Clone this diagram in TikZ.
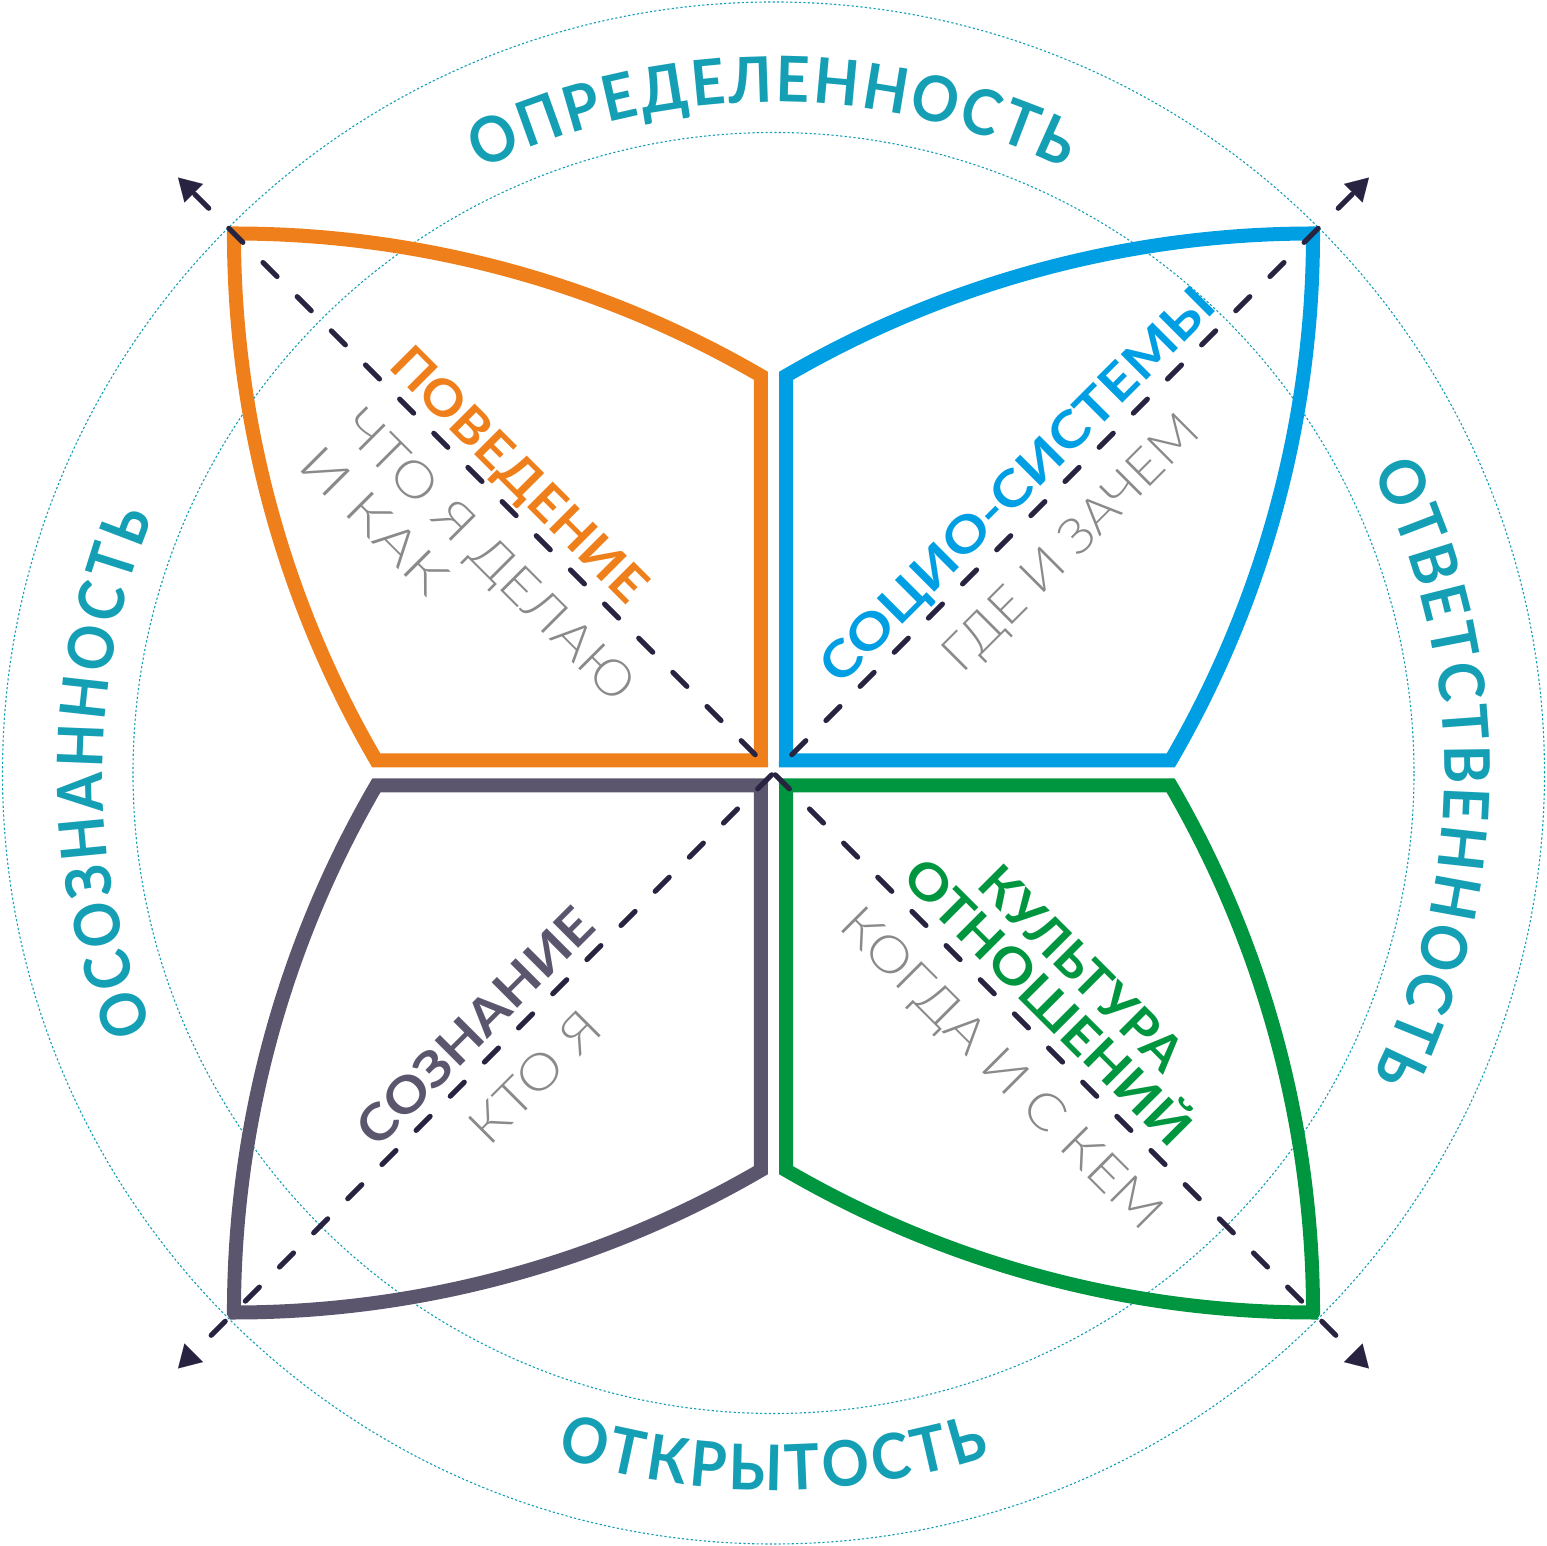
\documentclass[tikz,border=0pt]{standalone}
\usepackage{fontspec}
\usepackage{graphicx}
\setmainfont{Lato}
\newfontfamily\outerfont{Lato}[FakeStretch=0.93]
\newfontfamily\outerfontn{Lato}[FakeStretch=0.9]
\newfontfamily\lightfont{Lato Light}
\usetikzlibrary{arrows.meta,decorations.text}
\definecolor{cteal}{HTML}{149FB5}
\definecolor{corange}{HTML}{EF7F1A}
\definecolor{cblue}{HTML}{009FE3}
\definecolor{cgreen}{HTML}{00963F}
\definecolor{cpurple}{HTML}{5B566E}
\definecolor{cgrey}{HTML}{8A8A8A}
\definecolor{cnavy}{HTML}{272340}
\newcommand\petalshape[2]{%
  \begin{scope}[#1]
    \draw[petal,#2] (-539.5,539.5) arc[start angle=90,end angle=59.78,radius=1047]
      -- (-12.5,12.5) -- (-397.2,12.5) arc[start angle=210.22,end angle=180,radius=1047] -- cycle;
  \end{scope}}
\newcommand\fitw[2]{\resizebox{#1pt}{\height}{#2}}
\begin{document}
\begin{tikzpicture}[x=1pt,y=1pt,
  ring/.style={cteal,line width=1.1pt,dash pattern=on 2.2pt off 2.2pt},
  petal/.style={line width=14pt,line join=miter},
  ray/.style={cnavy,line width=5pt,line cap=round,dash pattern=on 20pt off 28.3pt,
    -{Triangle[length=22pt,width=26pt,line width=0.01pt]}},
  lab/.style={inner sep=0pt,outer sep=0pt,font=\bfseries\fontsize{50}{56}\selectfont},
  sub/.style={inner sep=0pt,outer sep=0pt,cgrey,font=\lightfont\fontsize{50}{56}\selectfont},
  outer/.style={decorate,decoration={text along path,text align={fit to path},text color=cteal,
    text={|\outerfont\bfseries\fontsize{63}{68}\selectfont|#1}}},
  outern/.style={decorate,decoration={text along path,text align={fit to path},text color=cteal,
    text={|\outerfontn\bfseries\fontsize{63}{68}\selectfont|#1}}}
]
\useasboundingbox (-773.5,-773) rectangle (773.5,773);
% dotted rings
\draw[ring] (0,0) circle[radius=771];
\draw[ring] (0,0) circle[radius=640.5];
% petals
\petalshape{}{corange}
\petalshape{xscale=-1}{cblue}
\petalshape{scale=-1}{cgreen}
\petalshape{yscale=-1}{cpurple}
% diagonal axes
\coordinate (c) at (0,0);
\coordinate (tl) at (-595.4,595.4);
\coordinate (tr) at (595.4,595.4);
\coordinate (bl) at (-595.4,-595.4);
\coordinate (br) at (595.4,-595.4);
\draw[ray,dash phase=22.5pt] (c) -- (tl);
\draw[ray,dash phase=22.5pt] (c) -- (tr);
\draw[ray,dash phase=45.8pt] (c) -- (bl);
\draw[ray,dash phase=45.8pt] (c) -- (br);
% outer curved words
\path[outer=ОПРЕДЕЛЕННОСТЬ] (115.9:671) arc[start angle=115.9,end angle=64.3,radius=671];
\path[outer=ОТВЕТСТВЕННОСТЬ] (26.8:671) arc[start angle=26.8,end angle=-26.8,radius=671];
\path[outern=ОСОЗНАННОСТЬ] (202.4:671) arc[start angle=202.4,end angle=157.6,radius=671];
\path[outer=ОТКРЫТОСТЬ] (252.4:717) arc[start angle=252.4,end angle=287.6,radius=717];
% top-left labels
\begin{scope}[rotate=-45,transform shape]
  \node[lab,corange,anchor=base west] (beh) at (-560,14) {\fitw{339}{ПОВЕДЕНИЕ}};
  \node[sub,anchor=base west] (beh1) at (-550,-64) {\fitw{390}{ЧТО Я ДЕЛАЮ}};
  \node[sub,anchor=base west] (beh2) at (-553,-121) {\fitw{185}{И КАК}};
\end{scope}
% top-right labels
\begin{scope}[rotate=45,transform shape]
  \node[lab,cblue,anchor=base] (soc) at (376,14) {\fitw{535}{СОЦИО-СИСТЕМЫ}};
  \node[sub,anchor=base] (soc1) at (373,-64) {\fitw{340}{ГДЕ И ЗАЧЕМ}};
\end{scope}
% bottom-right labels
\begin{scope}[rotate=-45,transform shape]
  \node[lab,cgreen,anchor=base] (cul1) at (356,62) {\fitw{266}{КУЛЬТУРА}};
  \node[lab,cgreen,anchor=base] (cul2) at (356,14) {\fitw{382}{ОТНОШЕНИЙ}};
  \node[sub,anchor=base] (cul3) at (370,-64) {\fitw{432}{КОГДА И С КЕМ}};
\end{scope}
% bottom-left labels
\begin{scope}[rotate=45,transform shape]
  \node[lab,cpurple,anchor=base] (con) at (-390,14) {\fitw{312}{СОЗНАНИЕ}};
  \node[sub,anchor=base] (con1) at (-384,-64) {\fitw{163}{КТО Я}};
\end{scope}
\end{tikzpicture}
\end{document}
